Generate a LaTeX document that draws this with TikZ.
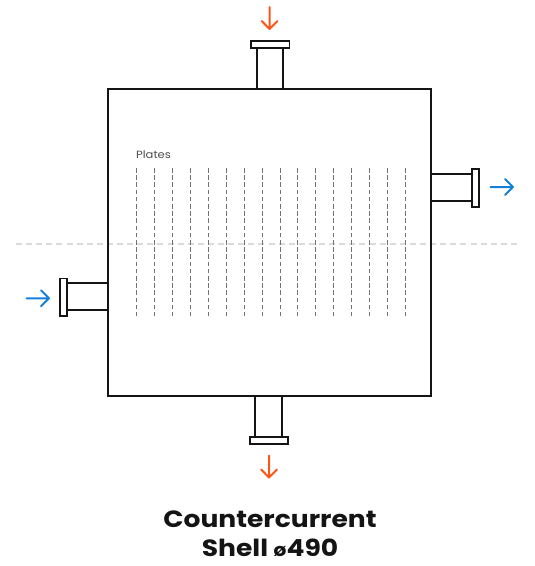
\documentclass[tikz,border=0pt]{standalone}
\usepackage{fontspec}
\setmainfont{Poppins}
\newfontfamily\widefont[FakeStretch=1.13]{Poppins}
\newfontfamily\widemed[FakeStretch=1.1]{Poppins}
\definecolor{flowred}{HTML}{FC5518}
\definecolor{flowblue}{HTML}{1480D8}
\definecolor{ink}{HTML}{141414}
\tikzset{
  wall/.style={draw=ink,line width=1.8pt,fill=white},
  platefin/.style={draw=black!55,line width=1pt,dash pattern=on 4.6pt off 2.6pt},
  datum/.style={draw=black!14,line width=1.3pt,dash pattern=on 6pt off 4.1pt},
  flowarrow/.style={line width=2pt,line cap=round,line join=round},
  titletext/.style={inner sep=0pt,font=\widefont\bfseries\fontsize{23.5}{29.5}\selectfont,text=ink,align=center},
}
\begin{document}
\begin{tikzpicture}[x=1pt,y=-1pt]
\useasboundingbox (0,0) rectangle (535,566);
% centre datum
\coordinate (dl) at (16,244);
\coordinate (dr) at (520,244);
\draw[datum] (dl) -- (dr);
% plates
\foreach \px in {136.5,154.5,172.5,190.5,208.5,226.5,244.5,262.5,280.5,297.5,315.5,333.5,351.5,369.5,387.5,405.5}{
  \draw[platefin] (\px,168) -- (\px,316);
}
% pipes
\draw[wall] (256.7,89) -- (256.7,48);
\draw[wall] (283.3,89) -- (283.3,48);
\draw[wall] (255,396) -- (255,437);
\draw[wall] (282,396) -- (282,437);
\draw[wall] (431,174.3) -- (472,174.3);
\draw[wall] (431,201) -- (472,201);
\draw[wall] (108,283.3) -- (67,283.3);
\draw[wall] (108,310.3) -- (67,310.3);
% shell
\draw[draw=ink,line width=1.8pt] (108,89) rectangle (431,396);
% flanges
\draw[wall] (251.3,41) rectangle (289.5,48);
\draw[wall] (250,437) rectangle (287.7,444.3);
\draw[wall] (472,169) rectangle (479.3,206.7);
\draw[wall] (59.7,278.5) rectangle (67,316.3);
% arrows
\coordinate (a1s) at (269.5,7);  \coordinate (a1e) at (269.5,29);
\coordinate (a2s) at (269,455.5);\coordinate (a2e) at (269,477.5);
\coordinate (a3s) at (490.5,187);\coordinate (a3e) at (513,187);
\coordinate (a4s) at (26.5,298.3);\coordinate (a4e) at (49,298.3);
\draw[flowarrow,flowred] (a1s) -- (a1e) (261.7,21) -- (a1e) -- (277.5,21);
\draw[flowarrow,flowred] (a2s) -- (a2e) (261.2,469.5) -- (a2e) -- (277,469.5);
\draw[flowarrow,flowblue] (a3s) -- (a3e) (505,179) -- (a3e) -- (505,195);
\draw[flowarrow,flowblue] (a4s) -- (a4e) (41,290.3) -- (a4e) -- (41,306.3);
% labels
\node[anchor=west,inner sep=0pt,text=black!70,font=\widemed\fontsize{10.5}{12}\selectfont] (plates) at (136,154.5) {Plates};
\node[titletext] (title) at (270,533.8) {Countercurrent\\Shell {\fontsize{18}{29.5}\selectfont ø}490};
\end{tikzpicture}
\end{document}
